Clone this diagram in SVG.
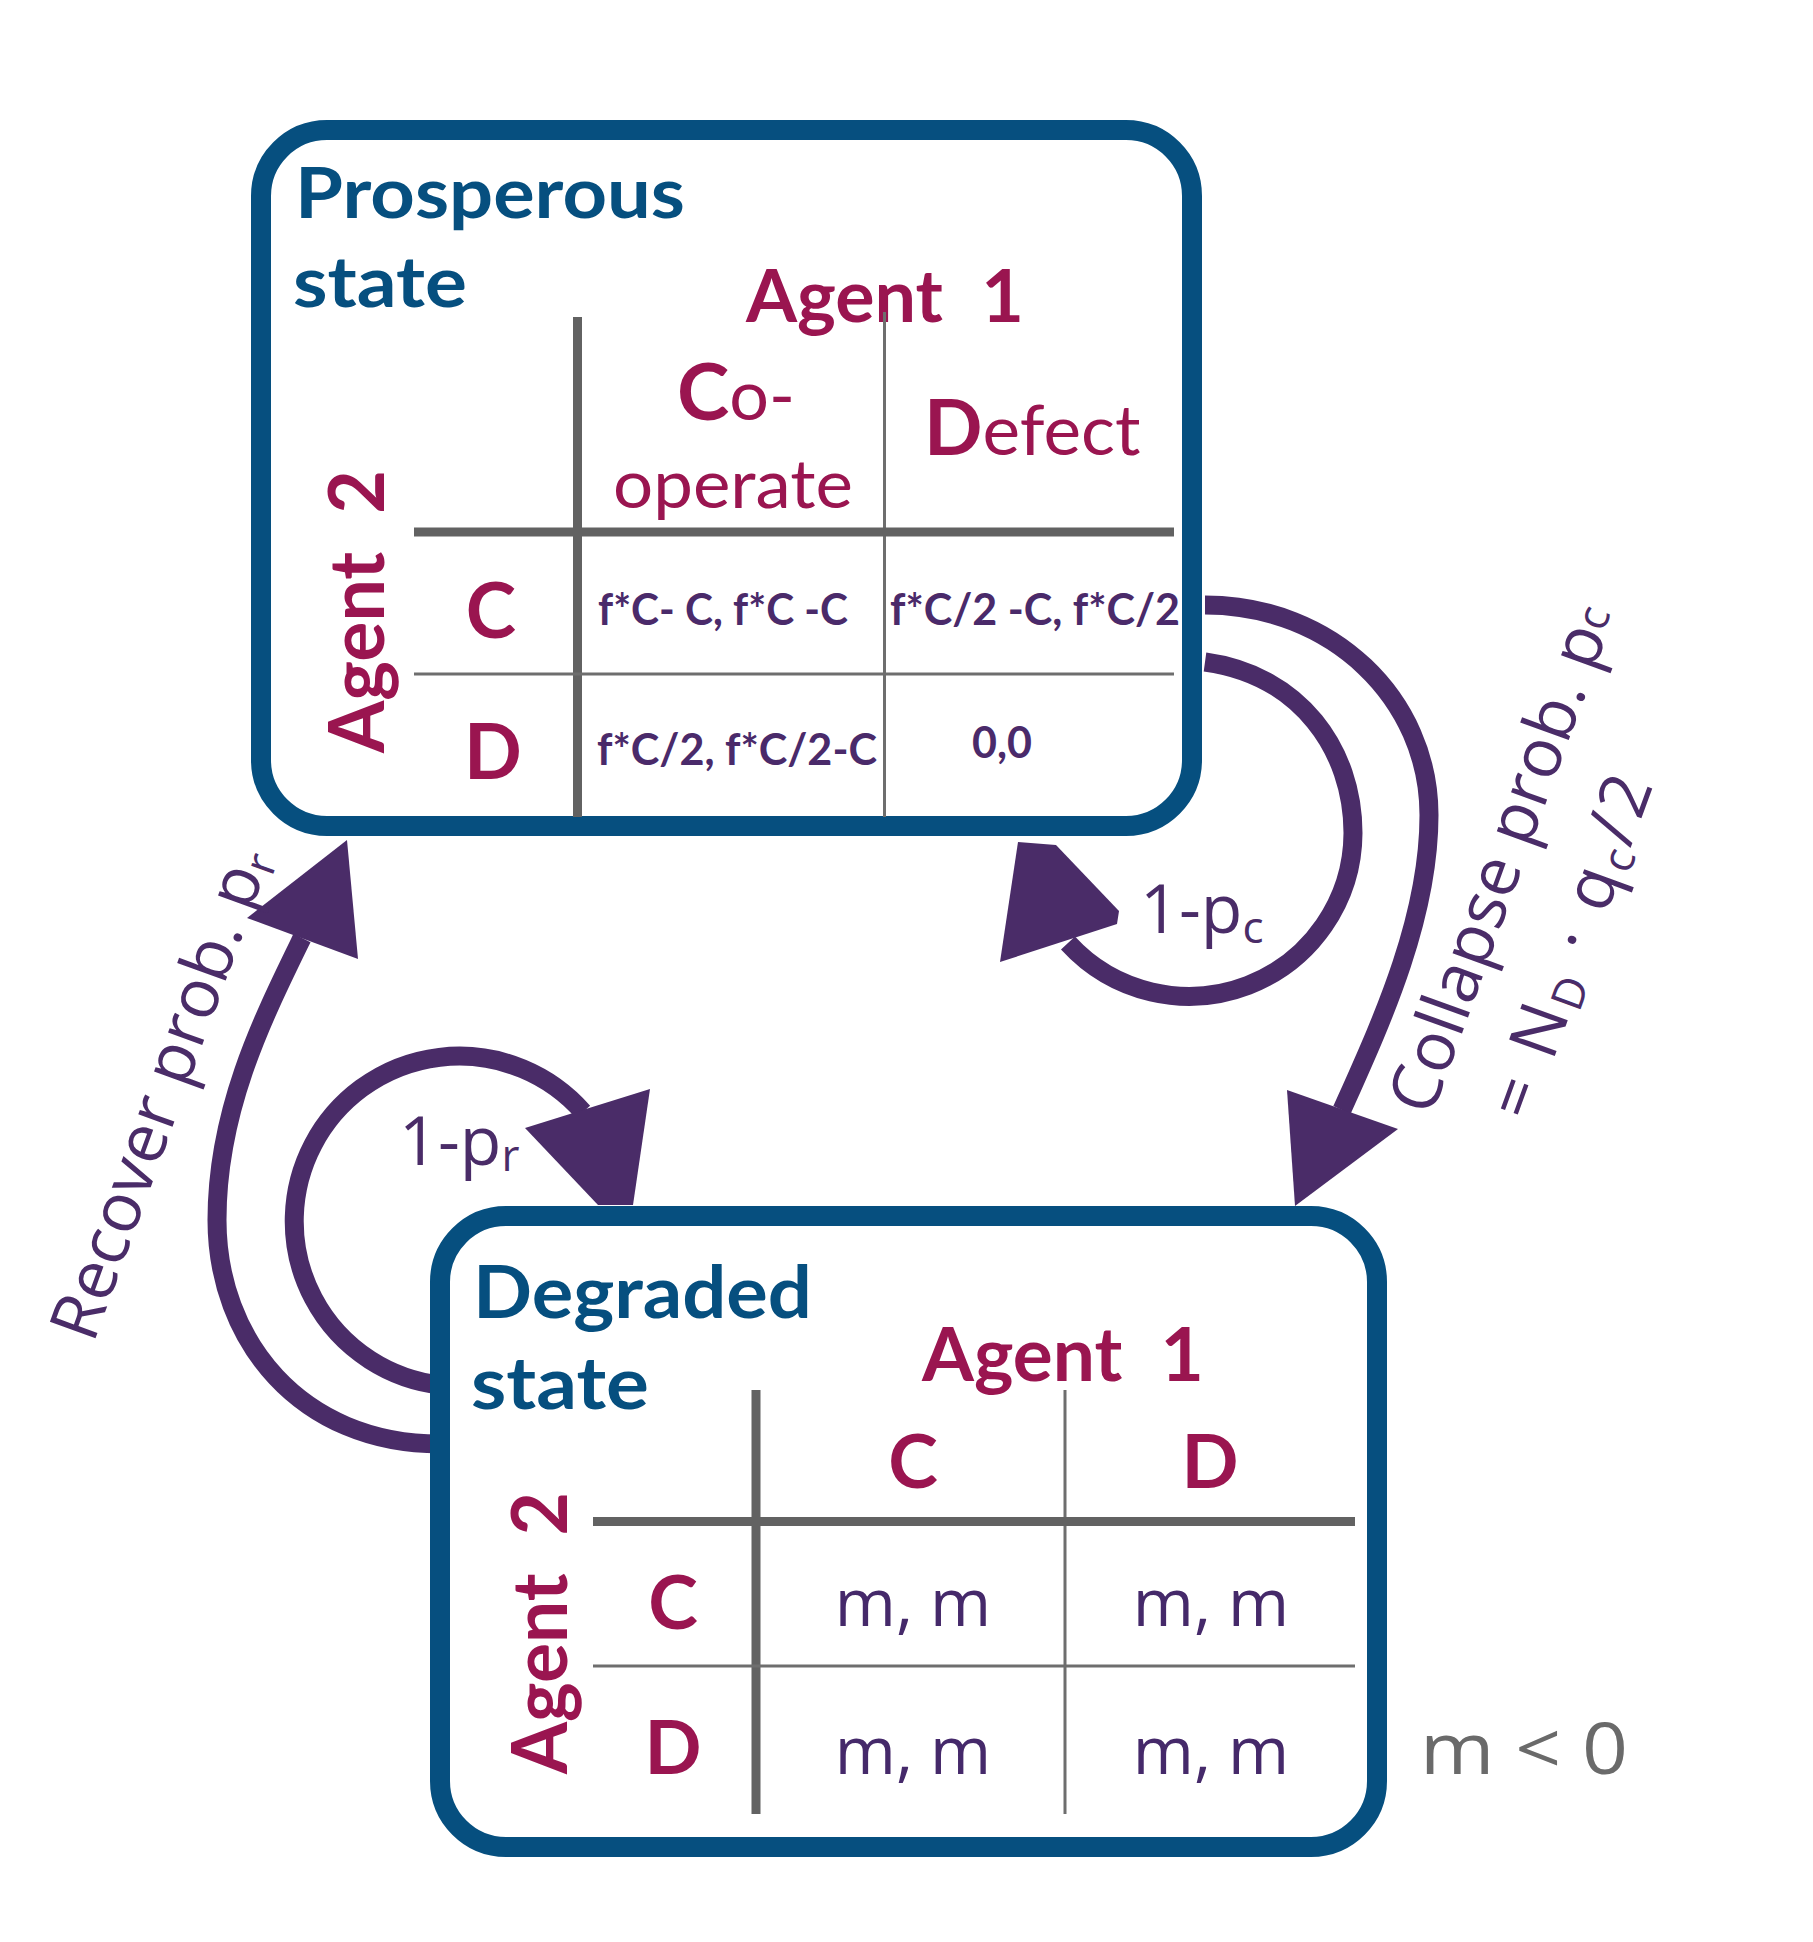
<svg xmlns="http://www.w3.org/2000/svg" width="1813" height="1942" viewBox="0 0 1813 1942">
<style>
.box{fill:#ffffff;stroke:#064f7f;stroke-width:20}
.head{font-family:Lato,"Open Sans",sans-serif;font-weight:700;fill:#064f7f}
.ag{font-family:Lato,"Open Sans",sans-serif;font-weight:700;fill:#9a1550}
.agr{font-family:Lato,"Open Sans",sans-serif;font-weight:400;fill:#9a1550}
.thick{stroke:#626262;stroke-width:9}
.thin{stroke:#6e6e6e;stroke-width:3}
.pay{font-family:Lato,"Open Sans",sans-serif;font-weight:700;fill:#4a2a6a;font-size:43px}
.mm{font-family:"Open Sans",sans-serif;font-weight:400;fill:#45296a;font-size:66px;text-anchor:middle}
.arc{fill:none;stroke:#4a2c68;stroke-width:19}
.ah{fill:#4a2c68}
.lbl{font-family:"Open Sans",sans-serif;font-weight:400;fill:#4a2c68;font-size:68px}
</style>

<g id="connectors">
  <!-- collapse -->
  <path class="arc" d="M 1205 605 C 1332 605, 1429 699, 1429 815 C 1429 920, 1380 1025, 1342 1110"/>
  <polygon class="ah" points="1287,1090 1398,1129 1295,1206"/>
  <!-- 1-pc self loop -->
  <path class="arc" d="M 1205 662 C 1300 675, 1353 750, 1353 833 A 164 164 0 0 1 1068 943"/>
  <polygon class="ah" points="1018,842 1056,845 1119,911 1117,924 1000,962"/>
  <!-- recover -->
  <path class="arc" d="M 440 1444 C 300 1444, 217 1340, 217 1220 C 217 1110, 262 1020, 302 938"/>
  <polygon class="ah" points="347,840 247,918 358,959"/>
  <!-- 1-pr self loop -->
  <path class="arc" d="M 440 1385 A 165 165 0 1 1 583 1112"/>
  <polygon class="ah" points="525,1128 650,1089 633,1205 598,1205"/>
</g>

<g id="node-prosperous">
  <rect class="box" x="261" y="130" width="931" height="696" rx="66" ry="66"/>
  <text class="head" x="295" y="218" font-size="71" textLength="390" lengthAdjust="spacingAndGlyphs">Prosperous</text>
  <text class="head" x="293" y="307" font-size="71" textLength="174" lengthAdjust="spacingAndGlyphs">state</text>
  <text class="ag" x="746" y="322" font-size="72" textLength="278" lengthAdjust="spacingAndGlyphs" word-spacing="20">Agent 1</text>
  <text class="ag" transform="translate(384,753) rotate(-90)" font-size="76" textLength="283" lengthAdjust="spacingAndGlyphs" word-spacing="20">Agent 2</text>
  <line class="thick" x1="577.5" y1="317" x2="577.5" y2="817"/>
  <line class="thin" x1="884.5" y1="312" x2="884.5" y2="817"/>
  <line class="thick" x1="414" y1="532" x2="1174" y2="532"/>
  <line class="thin" x1="414" y1="674" x2="1174" y2="674"/>
  <text x="677" y="420"><tspan class="ag" font-size="79">C</tspan><tspan class="agr" font-size="70">o-</tspan></text>
  <text class="agr" x="613" y="508" font-size="67" textLength="240" lengthAdjust="spacingAndGlyphs">operate</text>
  <text x="924" y="455"><tspan class="ag" font-size="77">D</tspan><tspan class="agr" font-size="69" textLength="158" lengthAdjust="spacingAndGlyphs">efect</tspan></text>
  <text class="ag" x="491" y="638" font-size="76" text-anchor="middle">C</text>
  <text class="ag" x="493" y="779" font-size="76" text-anchor="middle">D</text>
  <text class="pay" x="598" y="625" textLength="250" lengthAdjust="spacingAndGlyphs">f*C- C, f*C -C</text>
  <text class="pay" x="890" y="625" textLength="290" lengthAdjust="spacingAndGlyphs">f*C/2 -C, f*C/2</text>
  <text class="pay" x="597" y="765" textLength="280" lengthAdjust="spacingAndGlyphs">f*C/2, f*C/2-C</text>
  <text class="pay" x="972" y="758" textLength="60" lengthAdjust="spacingAndGlyphs">0,0</text>
</g>

<g id="node-degraded">
  <rect class="box" x="440" y="1216" width="937" height="631" rx="66" ry="66"/>
  <text class="head" x="473" y="1318" font-size="72" textLength="339" lengthAdjust="spacingAndGlyphs">Degraded</text>
  <text class="head" x="471" y="1409" font-size="72" textLength="178" lengthAdjust="spacingAndGlyphs">state</text>
  <text class="ag" x="922" y="1381" font-size="74" textLength="282" lengthAdjust="spacingAndGlyphs" word-spacing="20">Agent 1</text>
  <text class="ag" transform="translate(567,1774) rotate(-90)" font-size="76" textLength="282" lengthAdjust="spacingAndGlyphs" word-spacing="20">Agent 2</text>
  <line class="thick" x1="756" y1="1390" x2="756" y2="1814"/>
  <line class="thin" x1="1065" y1="1390" x2="1065" y2="1814"/>
  <line class="thick" x1="593" y1="1521.5" x2="1355" y2="1521.5"/>
  <line class="thin" x1="593" y1="1666" x2="1355" y2="1666"/>
  <text class="ag" x="913" y="1488" font-size="75" text-anchor="middle">C</text>
  <text class="ag" x="1210" y="1488" font-size="75" text-anchor="middle">D</text>
  <text class="ag" x="673" y="1629" font-size="75" text-anchor="middle">C</text>
  <text class="ag" x="673" y="1774" font-size="75" text-anchor="middle">D</text>
  <text class="mm" x="913" y="1626">m, m</text>
  <text class="mm" x="1211" y="1626">m, m</text>
  <text class="mm" x="913" y="1774">m, m</text>
  <text class="mm" x="1211" y="1774">m, m</text>
</g>

<g id="labels">
  <text class="lbl" x="1140" y="933" font-size="66">1-p<tspan font-size="44" dy="10">c</tspan></text>
  <text class="lbl" x="399" y="1165" font-size="66">1-p<tspan font-size="44" dy="6">r</tspan></text>
  <text class="lbl" transform="translate(182,1101) rotate(-70)" text-anchor="middle">Recover prob. p<tspan font-size="44" dy="8">r</tspan></text>
  <text class="lbl" transform="translate(1523,866) rotate(-70)" text-anchor="middle">Collapse prob. p<tspan font-size="44" dy="-4">c</tspan></text>
  <text class="lbl" transform="translate(1592,954) rotate(-70)" text-anchor="middle" textLength="360" lengthAdjust="spacing">= N<tspan font-size="44" dy="8">D</tspan><tspan dy="-8"> · q</tspan><tspan font-size="44" dy="8">c</tspan><tspan dy="-8">/2</tspan></text>
  <text x="1420" y="1774" font-family="'Open Sans',sans-serif" font-size="72" fill="#6a6a6a" textLength="208" lengthAdjust="spacingAndGlyphs">m &lt; 0</text>
</g>
</svg>
